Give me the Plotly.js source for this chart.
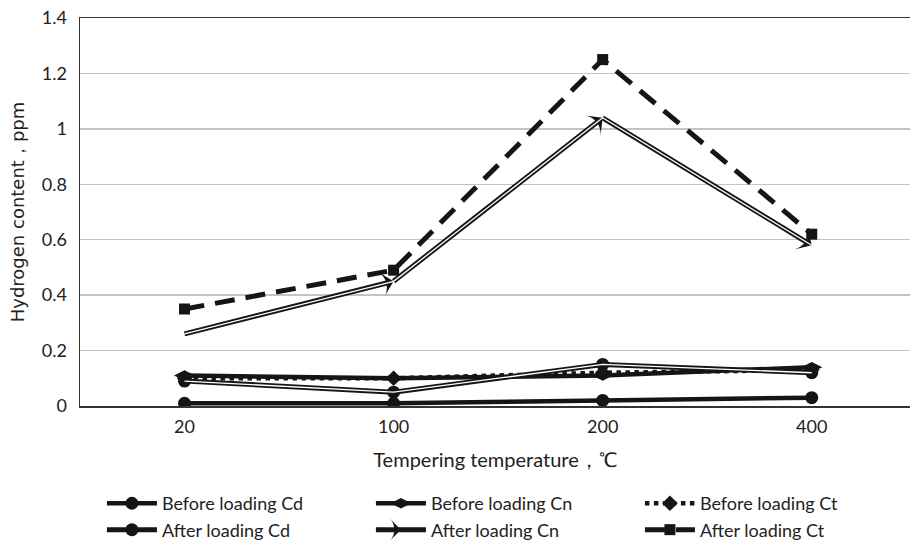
<!DOCTYPE html>
<html>
<head>
<meta charset="utf-8">
<script src="https://cdn.plot.ly/plotly-3.0.1.min.js"></script>
<style>html,body{margin:0;padding:0;background:#fff;}#chart{width:910px;height:545px;}</style>
</head>
<body>
<div id="chart"></div>
<script>
const categories = ["20", "100", "200", "400"];
const beforeCd = [0.01, 0.01, 0.02, 0.03];
const beforeCn = [0.11, 0.10, 0.11, 0.14];
const beforeCt = [0.10, 0.10, 0.12, 0.13];
const afterCd  = [0.09, 0.05, 0.15, 0.12];
const afterCn  = [0.26, 0.45, 1.04, 0.58];
const afterCt  = [0.35, 0.49, 1.25, 0.62];
const yTicks = [0, 0.2, 0.4, 0.6, 0.8, 1, 1.2, 1.4];

const K = '#151515';
const traces = [
  {name:'Before loading Cd', x:categories, y:beforeCd, mode:'lines+markers',
   line:{color:K, width:4.5}, marker:{symbol:'circle', size:13, color:K}},
  {name:'Before loading Cn', x:categories, y:beforeCn, mode:'lines+markers',
   line:{color:K, width:4.5}, marker:{symbol:'diamond-wide', size:15, color:K}},
  {name:'Before loading Ct', x:categories, y:beforeCt, mode:'lines+markers',
   line:{color:K, width:4.5, dash:'dot'}, marker:{symbol:'diamond', size:12, color:K}},
  {name:'After loading Cd', x:categories, y:afterCd, mode:'lines+markers',
   line:{color:K, width:5}, marker:{symbol:'circle', size:13, color:K}},
  {name:'After loading Cn', x:categories, y:afterCn, mode:'lines+markers',
   line:{color:K, width:5}, marker:{symbol:'arrow-wide', angleref:'previous', size:18, color:K}},
  {name:'After loading Ct', x:categories, y:afterCt, mode:'lines+markers',
   line:{color:K, width:5, dash:'20px,11px'}, marker:{symbol:'square', size:11, color:K}},
  {x:categories, y:afterCd, mode:'lines', showlegend:false, hoverinfo:'skip',
   line:{color:'#ffffff', width:1.3}},
  {x:categories, y:afterCn, mode:'lines', showlegend:false, hoverinfo:'skip',
   line:{color:'#ffffff', width:1.3}}
];

const layout = {
  width:910, height:545,
  margin:{l:80, r:0, t:18, b:139, autoexpand:false},
  paper_bgcolor:'#fff', plot_bgcolor:'#fff',
  font:{family:'Lato, "Open Sans", sans-serif', color:'#222', size:18},
  showlegend:true,
  xaxis:{type:'category', range:[-0.5, 3.47], showgrid:false, zeroline:false,
         showline:true, mirror:true, linecolor:'#333', linewidth:1.5, ticks:'',
         tickfont:{size:18}, ticklabelstandoff:4, automargin:false,
         title:{text:'Tempering temperature，℃', font:{size:20}, standoff:17}},
  yaxis:{range:[0, 1.4], tickvals:yTicks, ticktext:yTicks.map(String), showgrid:true,
         gridcolor:'#c4c4c4', gridwidth:1.5, zeroline:false, automargin:false,
         showline:true, linecolor:'#333', linewidth:1.5, ticks:'',
         tickfont:{size:18}, ticklabelstandoff:8,
         title:{text:'Hydrogen content，ppm', font:{family:'"DejaVu Sans", sans-serif', size:18}, standoff:12}},
  legend:{orientation:'h', xref:'container', yref:'container', x:0.112, xanchor:'left', y:0.11, yanchor:'top',
          entrywidth:204, entrywidthmode:'pixels', itemwidth:50,
          font:{size:18, color:'#222'}, traceorder:'normal', tracegroupgap:0}
};

Plotly.newPlot('chart', traces, layout, {displayModeBar:false, staticPlot:true});
</script>
</body>
</html>
